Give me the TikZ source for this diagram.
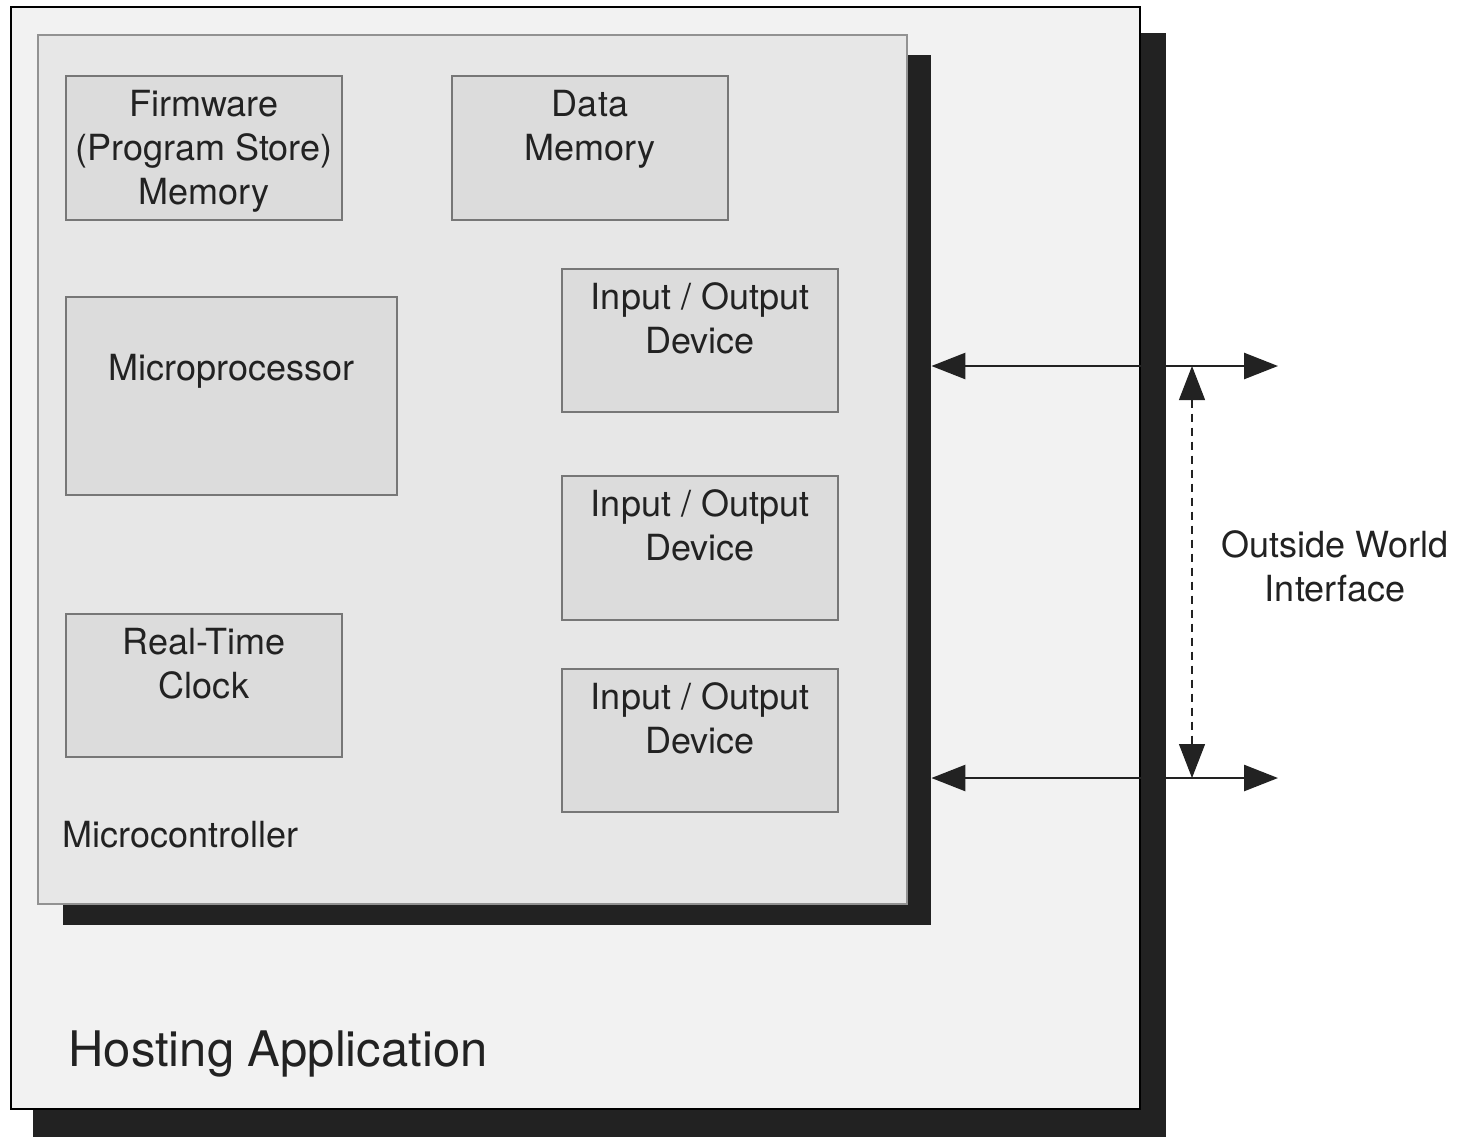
\documentclass[tikz,border=0pt]{standalone}
\usepackage{fontspec}
\setmainfont{TeX Gyre Heros}
\usetikzlibrary{fit,arrows.meta}
\definecolor{hostfill}{HTML}{F2F2F2}
\definecolor{mcfill}{HTML}{E7E7E7}
\definecolor{boxfill}{HTML}{DCDCDC}
\definecolor{boxline}{HTML}{777777}
\definecolor{shade}{HTML}{222222}
\begin{document}
\begin{tikzpicture}[x=0.5pt,y=-0.5pt,
  shadowbox/.style={fill=shade, draw=none, inner sep=0pt},
  hostbox/.style={fill=hostfill, draw=black, line width=1.2pt, inner sep=0pt},
  mcbox/.style={fill=mcfill, draw=boxline!80, line width=0.8pt, inner sep=0pt},
  unit/.style={fill=boxfill, draw=boxline, line width=0.8pt, inner sep=0pt},
  lbl/.style={font=\fontsize{18}{22}\selectfont, align=center, inner sep=0pt, text=shade},
  bigl/.style={font=\fontsize{24.5}{29}\selectfont, inner sep=0pt, text=shade},
  link/.style={line width=1.3pt, draw=shade, -{Triangle[length=17pt,width=13pt]}},
  span/.style={line width=0.6pt, draw=shade, dash pattern=on 4pt off 3pt,
    {Triangle[length=17pt,width=13pt]}-{Triangle[length=17pt,width=13pt]}}
]
\useasboundingbox[fill=white] (0,0) rectangle (1470,1136);

% hosting application
\node[shadowbox, fit={(33,33) (1166,1140)}] (hostsh) {};
\node[hostbox, fit={(11,7) (1140,1109)}] (host) {};
\node[bigl, anchor=north west] (hostt) at (68,1030) {Hosting Application};

% microcontroller
\node[shadowbox, fit={(63,55) (931,925)}] (mcsh) {};
\node[mcbox, fit={(38,35) (907,904)}] (mc) {};
\node[lbl, anchor=north west] (mct) at (62,821) {Microcontroller};

% units
\node[unit, fit={(66,76) (342,220)}] (fw) {};
\node[lbl, anchor=north] (fwt) at (204,90) {Firmware\\(Program Store)\\Memory};

\node[unit, fit={(452,76) (728,220)}] (dm) {};
\node[lbl, anchor=north] (dmt) at (590,90) {Data\\Memory};

\node[unit, fit={(66,297) (397,495)}] (mp) {};
\node[lbl, anchor=north] (mpt) at (231.5,354) {Microprocessor};

\node[unit, fit={(66,614) (342,757)}] (rtc) {};
\node[lbl, anchor=north] (rtct) at (204,628) {Real-Time\\Clock};

\node[unit, fit={(562,269) (838,412)}] (ioa) {};
\node[lbl, anchor=north] (ioat) at (700,282) {Input / Output\\Device};

\node[unit, fit={(562,476) (838,620)}] (iob) {};
\node[lbl, anchor=north] (iobt) at (700,489) {Input / Output\\Device};

\node[unit, fit={(562,669) (838,812)}] (ioc) {};
\node[lbl, anchor=north] (ioct) at (700,682) {Input / Output\\Device};

% outside world interface
\coordinate (ua) at (1278,366);
\coordinate (la) at (1278,778);
\coordinate (ud) at (1192,366);
\coordinate (ld) at (1192,778);

\draw[link] (host.east |- ua) -- (mcsh.east |- ua);
\draw[link] (hostsh.east |- ua) -- (ua);
\draw[link] (host.east |- la) -- (mcsh.east |- la);
\draw[link] (hostsh.east |- la) -- (la);
\draw[span] (ud) -- (ld);

\node[lbl, anchor=north] (owt) at (1335,530) {Outside World\\Interface};
\end{tikzpicture}
\end{document}
